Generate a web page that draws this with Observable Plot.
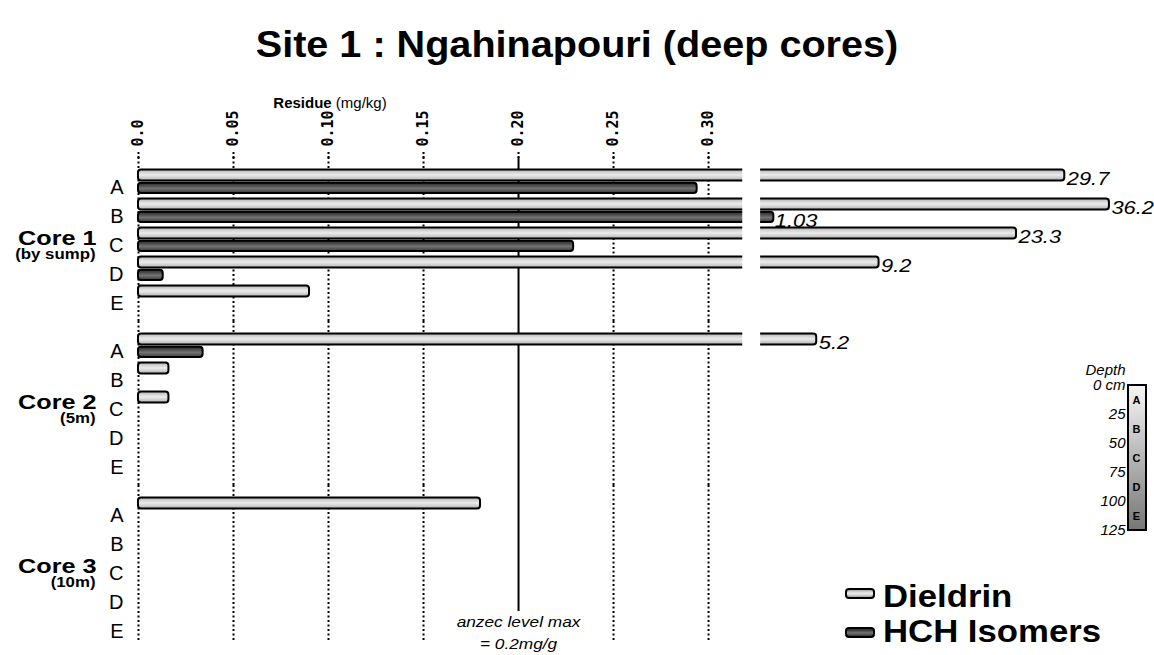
<!DOCTYPE html>
<html>
<head>
<meta charset="utf-8">
<script src="https://cdn.jsdelivr.net/npm/d3@7"></script>
<script src="https://cdn.jsdelivr.net/npm/@observablehq/plot@0.6"></script>
<style>
  body { margin: 0; background: #fff; font-family: "Liberation Sans", Arial, sans-serif; }
  #wrap { position: relative; width: 1154px; height: 655px; overflow: hidden; }
  #wrap > * { position: absolute; }
  #title { left: 0; top: 26px; width: 1154px; text-align: center; font-weight: bold; font-size: 36px; line-height: 38px; white-space: nowrap; transform: scaleX(1.1); transform-origin: 577px center; }
  #xlabel { left: 230px; width: 200px; top: 94px; text-align: center; font-size: 15px; white-space: nowrap; }
  .lg-sw { width: 26px; height: 7px; border: 2px solid #000; border-radius: 4px; }
  .lg-tx { font-weight: bold; font-size: 31px; line-height: 31px; white-space: nowrap; transform: scaleX(1.12); transform-origin: left center; }
</style>
</head>
<body>
<div id="wrap">
  <div id="title">Site 1 : Ngahinapouri (deep cores)</div>
  <div id="xlabel"><b>Residue</b> (mg/kg)</div>
</div>
<script>
// ---- data ----
const cores = ["Core 1", "Core 2", "Core 3"];
const coreNotes = ["(by sump)", "(5m)", "(10m)"];
const depths = ["A", "B", "C", "D", "E"];
const seriesNames = ["Dieldrin", "HCH Isomers"];
// residue (mg/kg) per core (rows) and depth A..E (columns); null = not detected
const dieldrin = [
  [29.7, 36.2, 23.3, 9.2, 0.09],
  [5.2, 0.016, 0.016, null, null],
  [0.18, null, null, null, null]
];
const hch = [
  [0.294, 1.03, 0.229, 0.013, null],
  [0.034, null, null, null, null],
  [null, null, null, null, null]
];
const xTicks = [0, 0.05, 0.10, 0.15, 0.20, 0.25, 0.30];
const xTickLabels = ["0.0", "0.05", "0.10", "0.15", "0.20", "0.25", "0.30"];
const limitValue = 0.2;
const limitNote = "anzec level max\n= 0.2mg/g";
// broken axis: beyond the break, values are compressed (not to scale)
const axisBreak = [0.318, 0.3275];
const brokenValues = [0.3275, 1, 5, 10, 25, 40];
const brokenDisplay = [0.3274, 0.3342, 0.3553, 0.3963, 0.4705, 0.5247];
const depthTicks = [0, 25, 50, 75, 100, 125];
const depthTickLabels = ["0 cm", "25", "50", "75", "100", "125"];
const depthTitle = "Depth";

// ---- table ----
const rows = [];
cores.forEach((c, i) => depths.forEach((d, j) => {
  if (dieldrin[i][j] != null) rows.push({core: c, depth: d, series: seriesNames[0], value: dieldrin[i][j]});
  if (hch[i][j] != null) rows.push({core: c, depth: d, series: seriesNames[1], value: hch[i][j]});
}));
const dRows = rows.filter(r => r.series === seriesNames[0]);
const hRows = rows.filter(r => r.series === seriesNames[1]);
const depthRows = cores.flatMap(c => depths.map(d => ({core: c, depth: d})));
const coreRows = cores.map((c, i) => ({core: c, note: coreNotes[i], depth: depths[2]}));
const gridRows = cores.flatMap(c => xTicks.filter(t => t !== limitValue).map(t => ({core: c, tick: t})));
const lastCore = cores[cores.length - 1];

const compress = d3.scaleLinear().domain(brokenValues).range(brokenDisplay);
const brokenTransform = v => v <= axisBreak[0] ? v : compress(v);

const font = "Liberation Sans, Arial, sans-serif";
const gridStyle = {x: "tick", fy: "core", stroke: "black", strokeWidth: 2, strokeDasharray: "2,2.5"};

const chart = Plot.plot({
  width: 1154, height: 655,
  marginTop: 157, marginBottom: 6, marginLeft: 138, marginRight: 19,
  style: {fontFamily: font, background: "transparent"},
  x: {type: "linear", domain: [0, brokenDisplay[brokenDisplay.length - 1]], transform: brokenTransform, axis: null},
  y: {domain: depths, paddingInner: 0, paddingOuter: 0.26, axis: null},
  fy: {domain: cores, padding: 0, axis: null},
  marks: [
    Plot.ruleX(gridRows.filter(r => r.core !== lastCore), gridStyle),
    Plot.ruleX(gridRows.filter(r => r.core === lastCore), {...gridStyle, insetBottom: 8}),
    Plot.ruleX(cores.slice(0, 2), {x: () => limitValue, fy: d => d, stroke: "black", strokeWidth: 2}),
    Plot.ruleX(cores.slice(2), {x: () => limitValue, fy: d => d, stroke: "black", strokeWidth: 2, insetBottom: 38}),
    Plot.axisX(xTicks, {anchor: "top", tickFormat: d => xTickLabels[xTicks.indexOf(d)], tickRotate: -90,
      tickSize: 8, tickPadding: 3, fontSize: 15, fontWeight: "bold", fontFamily: "DejaVu Sans Mono",
      strokeWidth: 2, strokeDasharray: "2,2", label: null}),
    Plot.barX(dRows, {x1: 0, x2: "value", y: "depth", fy: "core", fill: "url(#gDieldrin)",
      stroke: "black", strokeWidth: 2, insetTop: 2.5, insetBottom: 15.5, rx: 3}),
    Plot.barX(hRows, {x1: 0, x2: "value", y: "depth", fy: "core", fill: "url(#gHCH)",
      stroke: "black", strokeWidth: 2, insetTop: 15.8, insetBottom: 3, rx: 3}),
    Plot.rectX([axisBreak], {x1: d => d[0], x2: d => d[1], fill: "white"}),
    Plot.text(dRows.filter(r => r.value > axisBreak[1]), {x: "value", y: "depth", fy: "core", text: d => String(d.value),
      textAnchor: "start", dx: 2, dy: -3.5, fontSize: 19, fontStyle: "italic", className: "wide"}),
    Plot.text(hRows.filter(r => r.value > axisBreak[1]), {x: "value", y: "depth", fy: "core", text: d => String(d.value),
      textAnchor: "start", dx: 1, dy: 9.5, fontSize: 19, fontStyle: "italic", className: "wide"}),
    Plot.text(depthRows, {y: "depth", fy: "core", text: "depth", frameAnchor: "left", textAnchor: "end",
      dx: -15, dy: 6, fontSize: 20}),
    Plot.text(coreRows, {y: "depth", fy: "core", text: "core", frameAnchor: "left", textAnchor: "end",
      dx: -42, dy: -2, fontSize: 21, fontWeight: "bold", className: "stretch"}),
    Plot.text(coreRows, {y: "depth", fy: "core", text: "note", frameAnchor: "left", textAnchor: "end",
      dx: -43, dy: 15, fontSize: 14, fontWeight: "bold", className: "stretch"}),
    Plot.text([limitNote], {fy: () => lastCore, y: () => depths[4], x: () => limitValue, text: d => d,
      fontSize: 15, fontStyle: "italic", lineHeight: 1.45, dy: 5, className: "wide"})
  ]
});

const depthLegend = Plot.plot({
  width: 80, height: 200, marginTop: 30, marginBottom: 25, marginLeft: 54, marginRight: 8,
  style: {fontFamily: font, background: "transparent"},
  y: {domain: [depthTicks[0], depthTicks[depthTicks.length - 1]], reverse: true, axis: null},
  marks: [
    Plot.rect([depthTicks], {y1: d => d[0], y2: d => d[d.length - 1], fill: "url(#gDepth)", stroke: "black", strokeWidth: 2}),
    Plot.text(depths, {y: (d, i) => (depthTicks[i] + depthTicks[i + 1]) / 2, text: d => d, frameAnchor: "middle",
      fontSize: 11, fontWeight: "bold", dx: -1}),
    Plot.text(depthTicks, {y: d => d, text: (d, i) => depthTickLabels[i], frameAnchor: "left", textAnchor: "end",
      dx: -3, fontSize: 15, fontStyle: "italic"}),
    Plot.text([depthTitle], {y: () => depthTicks[0], text: d => d, frameAnchor: "left", textAnchor: "end",
      dx: -3, dy: -15, fontSize: 15, fontStyle: "italic"})
  ]
});

const wrap = document.getElementById("wrap");
chart.style.left = "0px"; chart.style.top = "0px";
wrap.insertBefore(chart, wrap.firstChild);
depthLegend.style.left = "1074px"; depthLegend.style.top = "355px";
wrap.appendChild(depthLegend);

// widen lettering a little, like the reference (its glyphs are horizontally stretched)
function widen(sel, factor) {
  d3.select(chart).selectAll(sel).each(function () {
    const spans = this.querySelectorAll("tspan");
    const targets = spans.length ? Array.from(spans) : [this];
    targets.forEach(t => {
      const w = t.getComputedTextLength();
      if (w > 0) { t.setAttribute("textLength", w * factor); t.setAttribute("lengthAdjust", "spacingAndGlyphs"); }
    });
  });
}
widen(".stretch text", 1.2);
widen(".wide text", 1.15);

function addGrad(svgNode, id, stops) {
  let defs = d3.select(svgNode).select("defs");
  if (defs.empty()) defs = d3.select(svgNode).insert("defs", ":first-child");
  const g = defs.append("linearGradient").attr("id", id).attr("x1", 0).attr("y1", 0).attr("x2", 0).attr("y2", 1);
  stops.forEach(([o, c]) => g.append("stop").attr("offset", o).attr("stop-color", c));
}
const dStops = [[0, "#a8a8a8"], [0.25, "#d2d2d2"], [0.5, "#ececec"], [0.65, "#dadada"], [0.85, "#c2c2c2"], [1, "#9c9c9c"]];
const hStops = [[0, "#2a2a2a"], [0.3, "#4e4e4e"], [0.55, "#747474"], [0.75, "#5a5a5a"], [1, "#363636"]];
addGrad(chart, "gDieldrin", dStops);
addGrad(chart, "gHCH", hStops);
addGrad(depthLegend, "gDepth", [[0, "#f6f6f6"], [1, "#767676"]]);

// series legend
const css = s => "linear-gradient(to bottom," + s.map(([o, c]) => c + " " + (o * 100) + "%").join(",") + ")";
[dStops, hStops].forEach((stops, i) => {
  const sw = document.createElement("div");
  sw.className = "lg-sw";
  sw.style.left = "845px"; sw.style.top = (588 + i * 39) + "px";
  sw.style.background = css(stops);
  wrap.appendChild(sw);
  const tx = document.createElement("div");
  tx.className = "lg-tx";
  tx.textContent = seriesNames[i];
  tx.style.left = "883px"; tx.style.top = (581 + i * 35) + "px";
  wrap.appendChild(tx);
});
</script>
</body>
</html>
